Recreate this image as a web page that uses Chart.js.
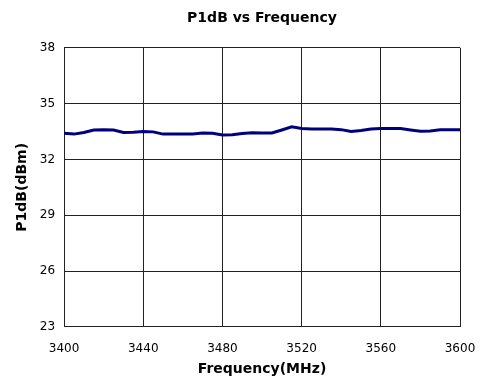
<!DOCTYPE html>
<html>
<head>
<meta charset="utf-8">
<script src="https://cdn.jsdelivr.net/npm/chart.js@4"></script>
<style>
  body { margin: 0; background: #fff; }
  #wrap { width: 491px; height: 378px; }
</style>
</head>
<body>
<div id="wrap"><canvas id="myChart" width="491" height="378"></canvas></div>
<script>
// Frequency (MHz), every 5 MHz
const freqs = [3400, 3405, 3410, 3415, 3420, 3425, 3430, 3435, 3440, 3445,
  3450, 3455, 3460, 3465, 3470, 3475, 3480, 3485, 3490, 3495,
  3500, 3505, 3510, 3515, 3520, 3525, 3530, 3535, 3540, 3545,
  3550, 3555, 3560, 3565, 3570, 3575, 3580, 3585, 3590, 3595, 3600];
// P1dB (dBm)
const p1db = [33.41, 33.36, 33.45, 33.58, 33.59, 33.58, 33.45, 33.46, 33.50, 33.48,
  33.36, 33.36, 33.37, 33.37, 33.42, 33.40, 33.31, 33.33, 33.39, 33.43,
  33.42, 33.42, 33.58, 33.75, 33.66, 33.64, 33.64, 33.64, 33.60, 33.50,
  33.55, 33.64, 33.66, 33.66, 33.66, 33.58, 33.51, 33.53, 33.59, 33.59, 33.59];
const xTicks = [3400, 3440, 3480, 3520, 3560, 3600];
const yTicks = [23, 26, 29, 32, 35, 38];

const points = freqs.map((f, i) => ({ x: f, y: p1db[i] }));

const ctx = document.getElementById('myChart').getContext('2d');
const font = 'DejaVu Sans';

const config = {
  type: 'line',
  data: {
    datasets: [{
      data: points,
      borderColor: '#00007f',
      borderWidth: 3,
      pointRadius: 0,
      tension: 0,
      fill: false,
    }],
  },
  options: {
    responsive: false,
    animation: false,
    layout: { padding: { left: 14, right: 31, top: 4, bottom: 0 } },
    plugins: {
      legend: { display: false },
      tooltip: { enabled: false },
      title: {
        display: true,
        fullSize: false,
        text: 'P1dB vs Frequency',
        color: '#000',
        font: { family: font, size: 14, weight: 'bold' },
        padding: { top: 6, bottom: 21 },
      },
    },
    scales: {
      x: {
        type: 'linear',
        min: 3400,
        max: 3600,
        afterBuildTicks: (axis) => { axis.ticks = xTicks.map(v => ({ value: v })); },
        ticks: {
          color: '#000', font: { family: font, size: 12 }, padding: 15,
          callback: (v) => String(v),
        },
        grid: { color: '#222', lineWidth: 1, drawTicks: false },
        border: { color: '#222', width: 1 },
        title: {
          display: true,
          text: 'Frequency(MHz)',
          color: '#000',
          font: { family: font, size: 14, weight: 'bold' },
          padding: { top: -10, bottom: 0 },
        },
      },
      y: {
        min: 23,
        max: 38,
        afterBuildTicks: (axis) => { axis.ticks = yTicks.map(v => ({ value: v })); },
        ticks: { color: '#000', font: { family: font, size: 12 }, padding: 9 },
        grid: { color: '#222', lineWidth: 1, drawTicks: false },
        border: { color: '#222', width: 1 },
        title: {
          display: true,
          text: 'P1dB(dBm)',
          color: '#000',
          font: { family: font, size: 14, weight: 'bold' },
          padding: { top: 0, bottom: 0 },
        },
      },
    },
  },
};

const myChart = new Chart(ctx, config);
</script>
</body>
</html>
